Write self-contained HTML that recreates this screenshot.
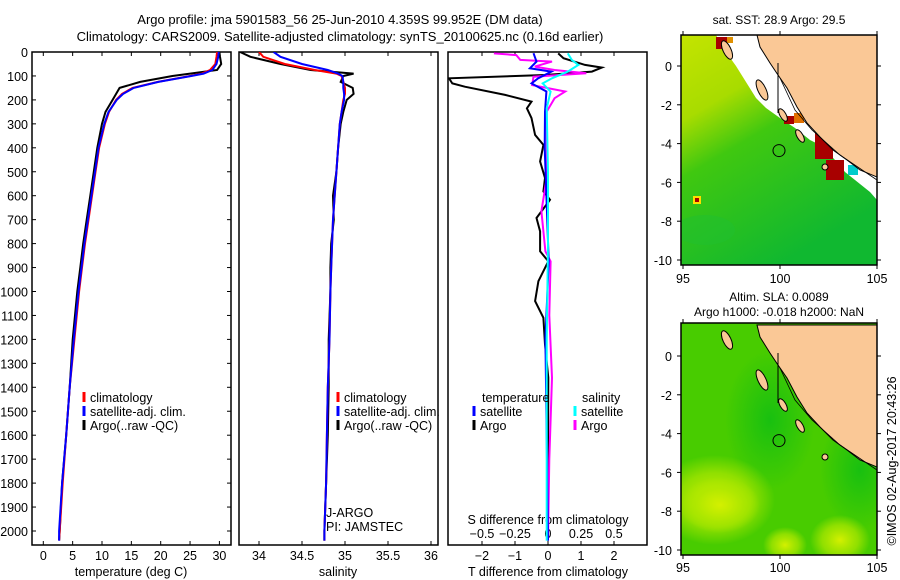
<!DOCTYPE html>
<html><head><meta charset="utf-8"><style>
body{margin:0;background:#fff;}
svg{display:block;font-family:"Liberation Sans",sans-serif;}
text{fill:#000;}
</style></head><body>
<svg id="chart" width="900" height="580" viewBox="0 0 900 580" xmlns="http://www.w3.org/2000/svg">
<defs>
<clipPath id="cp1"><rect x="32" y="52" width="199" height="493"/></clipPath>
<clipPath id="cp2"><rect x="239" y="52" width="199" height="493"/></clipPath>
<clipPath id="cp3"><rect x="448" y="52" width="199" height="493"/></clipPath>
<clipPath id="cm1"><rect x="681" y="35" width="196" height="230"/></clipPath>
<clipPath id="cm2"><rect x="681" y="323" width="196" height="232"/></clipPath>
<linearGradient id="g1" x1="0" y1="0" x2="0.5" y2="1"><stop offset="0" stop-color="#c4e400"/><stop offset="0.3" stop-color="#a8dc00"/><stop offset="0.5" stop-color="#40c810"/><stop offset="1" stop-color="#10b830"/></linearGradient>
<radialGradient id="y1" cx="0.5" cy="0.5" r="0.5"><stop offset="0" stop-color="#d4f000"/><stop offset="0.6" stop-color="#b0e800" stop-opacity="0.7"/><stop offset="1" stop-color="#b0e800" stop-opacity="0"/></radialGradient>
<radialGradient id="d1" cx="0.5" cy="0.5" r="0.5"><stop offset="0" stop-color="#18c010"/><stop offset="1" stop-color="#18c010" stop-opacity="0"/></radialGradient>
</defs>
<g id="titles">
<text x="340" y="24" font-size="13" text-anchor="middle">Argo profile: jma 5901583_56 25-Jun-2010 4.359S 99.952E (DM data)</text>
<text x="340" y="41" font-size="13" text-anchor="middle">Climatology: CARS2009. Satellite-adjusted climatology: synTS_20100625.nc (0.16d earlier)</text>
</g>
<g id="frames"></g>
<g id="maps"></g>
<g id="plots"></g>
</svg>
<script>
const depths=[0,20,50,75,90,100,125,150,175,200,250,300,400,500,600,700,800,900,1000,1200,1400,1600,1800,2000,2040];
const climT=[29.6,29.5,29.3,28.4,27,25,19.5,15.2,13.4,12.4,11.2,10.5,9.5,8.9,8.3,7.7,7.1,6.6,6.1,5.3,4.5,3.9,3.3,2.8,2.7];
const satT=[29.9,29.8,29.5,28.8,27.3,25.2,19.6,15.4,13.6,12.5,11.1,10.4,9.4,8.8,8.2,7.6,7.0,6.5,6.0,5.2,4.5,3.9,3.2,2.7,2.7];
const argoT=[30.0,30.1,30.3,29.6,25,22,16.5,13.0,12.4,11.8,10.6,10.0,9.2,8.6,8.0,7.4,6.8,6.3,5.8,5.0,4.5,3.9,3.2,2.8,2.7];
const climS=[34.0,34.05,34.3,34.65,34.9,34.96,34.98,35.0,35.0,34.98,34.96,34.94,34.92,34.9,34.88,34.86,34.85,34.84,34.83,34.82,34.8,34.79,34.78,34.76,34.76];
const satS=[34.17,34.25,34.5,34.8,34.92,34.97,34.98,34.98,34.99,34.99,34.96,34.94,34.92,34.9,34.88,34.86,34.85,34.84,34.83,34.82,34.8,34.79,34.78,34.76,34.76];
const argoS=[33.78,33.9,34.25,34.6,35.1,34.98,34.95,35.09,35.1,35.02,34.98,34.95,34.92,34.9,34.86,34.87,34.84,34.83,34.83,34.81,34.81,34.8,34.78,34.76,34.76];
const dTdepths=[6,26,54,65,82,96,110,131,145,179,207,235,276,346,388,457,526,582,617,693,749,832,874,957,1040,1110,1221,1360,1700,2040];
const argoDT=[0.31,0.47,1.12,1.63,1.33,-0.09,-3.0,-2.9,-2.52,-1.3,-0.5,-0.64,-0.5,-0.39,-0.14,-0.24,-0.09,-0.14,0.06,-0.35,-0.24,-0.24,0.01,-0.29,-0.39,-0.14,-0.09,0.01,0.0,0.0];
const satDdepths=[5,40,68,82,110,131,165,250,400,600,874,1200,1500,2040];
const satDT=[-0.44,-0.35,-0.55,0.1,-0.3,-0.5,-0.05,-0.09,-0.1,-0.05,0.02,-0.08,-0.05,0.0];
const dSdepths=[6,13,33,40,61,75,89,103,138,165,193,249,526,665,832,874,1100,1360,1700,2040];
const argoDS=[-0.41,-0.24,-0.21,0.03,-0.1,0.05,0.29,-0.11,-0.12,0.13,0.05,-0.01,-0.01,-0.05,-0.02,0.02,0.01,0.03,0.01,0.0];
const satDSdepths=[6,33,54,82,110,131,165,235,500,800,1200,1600,2040];
const satDS=[0.15,0.18,0.23,0.15,0.03,-0.04,0.02,-0.01,0.0,0.0,-0.01,-0.01,-0.01];
const depthTicks=[0,100,200,300,400,500,600,700,800,900,1000,1100,1200,1300,1400,1500,1600,1700,1800,1900,2000];
const tTicks=[0,5,10,15,20,25,30];
const sTicks=[34,34.5,35,35.5,36];
const dTTicks=[-2,-1,0,1,2];
const dSTicks=[-0.5,-0.25,0,0.25,0.5];
const lonTicks=[95,100,105];
const latTicks=[0,-2,-4,-6,-8,-10];

const NS='http://www.w3.org/2000/svg';
function mk(tag,attrs,parent){const e=document.createElementNS(NS,tag);for(const k in attrs)e.setAttribute(k,attrs[k]);parent.appendChild(e);return e;}
const yD=d=>52+d*0.2395;
const xT=t=>43.3+t*5.87;
const xS=s=>259+(s-34)*86;
const xDT=t=>548+t*33;
const xDS=s=>548+s*132;
const frames=document.getElementById('frames');
const plots=document.getElementById('plots');
const maps=document.getElementById('maps');

function txt(x,y,s,size,anchor,parent,name){const t=mk('text',{x:x,y:y,'font-size':size,'text-anchor':anchor||'start'},parent);t.textContent=s;


return t;}

[[32,'temperature-panel'],[239,'salinity-panel'],[448,'difference-panel']].forEach(([x,n])=>{
 const r=mk('rect',{x:x,y:52,width:199,height:493,fill:'none',stroke:'#000','stroke-width':1.5},frames);
 
 
});
depthTicks.forEach(d=>{
 const y=yD(d);
 mk('line',{x1:32,x2:36,y1:y,y2:y,stroke:'#000'},frames);
 mk('line',{x1:227,x2:231,y1:y,y2:y,stroke:'#000'},frames);
 txt(28,y+5,String(d),12.5,'end',frames,'depth-tick-label');
});
tTicks.forEach(t=>{const x=xT(t);mk('line',{x1:x,x2:x,y1:545,y2:541,stroke:'#000'},frames);mk('line',{x1:x,x2:x,y1:52,y2:56,stroke:'#000'},frames);txt(x,560,String(t),12.5,'middle',frames,'temperature-tick-label');});
sTicks.forEach(s=>{const x=xS(s);mk('line',{x1:x,x2:x,y1:545,y2:541,stroke:'#000'},frames);mk('line',{x1:x,x2:x,y1:52,y2:56,stroke:'#000'},frames);txt(x,560,String(s),12.5,'middle',frames,'salinity-tick-label');});
dTTicks.forEach(t=>{const x=xDT(t);mk('line',{x1:x,x2:x,y1:545,y2:541,stroke:'#000'},frames);txt(x,560,String(t).replace('-','\u2212'),12.5,'middle',frames,'t-diff-tick-label');});
dSTicks.forEach(s=>{const x=xDS(s);mk('line',{x1:x,x2:x,y1:545,y2:541,stroke:'#000'},frames);mk('line',{x1:x,x2:x,y1:52,y2:56,stroke:'#000'},frames);txt(x,538,String(s).replace('-','\u2212'),12.5,'middle',frames,'s-diff-tick-label');});
txt(131,576,'temperature (deg C)',12.5,'middle',frames,'temperature-axis-title');
txt(338,576,'salinity',12.5,'middle',frames,'salinity-axis-title');
txt(548,576,'T difference from climatology',12.5,'middle',frames,'t-diff-axis-title');
txt(548,524,'S difference from climatology',12.5,'middle',frames,'s-diff-axis-title');
txt(326,517,'J-ARGO',12.5,'start',frames,'float-program-label');
txt(326,531,'PI: JAMSTEC',12.5,'start',frames,'pi-label');

function line(xs,ds,xf,color,clip,name,w){
 const g=mk('g',{'clip-path':'url(#'+clip+')'},plots);
 const p=mk('polyline',{points:xs.map((v,i)=>xf(v).toFixed(1)+','+yD(ds[i]).toFixed(1)).join(' '),fill:'none',stroke:color,'stroke-width':w||2},g);
 
 
}
line(argoT,depths,xT,'#000','cp1','argo-temperature-line');
line(climT,depths,xT,'#ff0000','cp1','climatology-temperature-line');
line(satT,depths,xT,'#0000ff','cp1','satellite-temperature-line');
line(argoS,depths,xS,'#000','cp2','argo-salinity-line');
line(climS,depths,xS,'#ff0000','cp2','climatology-salinity-line');
line(satS,depths,xS,'#0000ff','cp2','satellite-salinity-line');
line(argoDT,dTdepths,xDT,'#000','cp3','argo-t-diff-line');
line(argoDS,dSdepths,xDS,'#ff00ff','cp3','argo-s-diff-line');
line(satDT,satDdepths,xDT,'#0000ff','cp3','satellite-t-diff-line');
line(satDS,satDSdepths,xDS,'#00ffff','cp3','satellite-s-diff-line');

function legend(x,y,color,label,name){
 const g=mk('g',{},plots);
 
 
 mk('rect',{x:x-1.5,y:y-10,width:3,height:10,fill:color},g);
 const t=mk('text',{x:x+6,y:y,'font-size':12.5},g);t.textContent=label;
}
legend(84,402,'#ff0000','climatology','legend-climatology');
legend(84,416,'#0000ff','satellite-adj. clim.','legend-satellite');
legend(84,430,'#000','Argo(..raw -QC)','legend-argo');
legend(338,402,'#ff0000','climatology','legend-climatology-salinity');
legend(338,416,'#0000ff','satellite-adj. clim.','legend-satellite-salinity');
legend(338,430,'#000','Argo(..raw -QC)','legend-argo-salinity');
txt(482,402,'temperature',12.5,'start',plots,'legend-temperature-heading');
txt(582,402,'salinity',12.5,'start',plots,'legend-salinity-heading');
legend(474,416,'#0000ff','satellite','legend-t-satellite');
legend(474,430,'#000','Argo','legend-t-argo');
legend(575,416,'#00ffff','satellite','legend-s-satellite');
legend(575,430,'#ff00ff','Argo','legend-s-argo');

const land=[[757,35],[760,47],[770,63],[778,75],[787,88],[797,107],[807,123],[820,137],[833,150],[847,160],[860,170],[877,177],[877,35]];
function drawMap(clip,top){
 const g=mk('g',{'clip-path':'url(#'+clip+')'},maps);
 
 
 const fy=top?35:323, fh=top?230:232;
 if(top){
  mk('rect',{x:681,y:fy,width:196,height:fh,fill:'url(#g1)'},g);
  mk('ellipse',{cx:705,cy:230,rx:30,ry:15,fill:'#20c030',opacity:0.5},g);
  mk('polygon',{points:'716,35 726,52 736,66 746,82 756,98 766,108 780,118 795,128 810,140 822,146 835,160 845,172 870,192 877,200 877,35',fill:'#fff'},g);
  [[716,37,12,12,'#a80000'],[727,37,6,6,'#e09000'],[794,113,10,10,'#e07000'],[784,116,10,8,'#a80000'],[815,133,18,26,'#a80000'],[826,160,18,20,'#a80000'],[848,165,10,10,'#00cccc'],[857,55,12,12,'#001080'],[863,35,14,8,'#a80000'],[693,196,8,8,'#ffdd00'],[695,198,4,4,'#a80000']].forEach(r=>mk('rect',{x:r[0],y:r[1],width:r[2],height:r[3],fill:r[4]},g));
 } else {
  mk('rect',{x:681,y:fy,width:196,height:fh,fill:'#48cc00'},g);
  mk('ellipse',{cx:770,cy:420,rx:45,ry:70,fill:'url(#d1)'},g);
  mk('ellipse',{cx:860,cy:470,rx:40,ry:60,fill:'url(#d1)'},g);
  mk('ellipse',{cx:715,cy:500,rx:60,ry:45,fill:'url(#y1)'},g);
  mk('ellipse',{cx:720,cy:505,rx:40,ry:28,fill:'url(#y1)'},g);
  mk('ellipse',{cx:840,cy:540,rx:30,ry:25,fill:'url(#y1)'},g);
  mk('ellipse',{cx:785,cy:545,rx:22,ry:18,fill:'url(#y1)'},g);
 }
 const off=top?0:290;
 mk('polygon',{points:land.map(p=>p[0]+','+(p[1]+off)).join(' '),fill:'#fac896',stroke:'#000','stroke-width':1},g);
 [[727,50,4,10,-25],[762,90,4,11,-25],[783,115,3,7,-30],[800,136,3,7,-30],[825,167,3,3,0]].forEach(e=>mk('ellipse',{cx:e[0],cy:e[1]+off,rx:e[2],ry:e[3],transform:'rotate('+e[4]+' '+e[0]+' '+(e[1]+off)+')',fill:'#fac896',stroke:'#000'},g));
 mk('line',{x1:778,y1:63+off,x2:778,y2:113+off,stroke:'#000'},g);
 mk('polyline',{points:[[780,78],[795,110],[812,130],[840,155],[877,180]].map(p=>p[0]+','+(p[1]+off)).join(' '),fill:'none',stroke:'#000','stroke-width':0.8},g);
 const c=mk('circle',{cx:779,cy:(top?66:356)+4.359*19.4,r:6,fill:'none',stroke:'#000'},g);
 
 
 const fr=mk('rect',{x:681,y:fy,width:196,height:fh,fill:'none',stroke:'#000','stroke-width':1.5},maps);
 
 
 const lat0=top?66:356;
 latTicks.forEach(l=>{const y=lat0-l*19.4;mk('line',{x1:677,x2:681,y1:y,y2:y,stroke:'#000'},maps);mk('line',{x1:877,x2:881,y1:y,y2:y,stroke:'#000'},maps);txt(672,y+5,String(l),12.5,'end',maps,'latitude-tick-label');});
 lonTicks.forEach(l=>{const x=683+(l-95)*19.4;mk('line',{x1:x,x2:x,y1:fy-4,y2:fy,stroke:'#000'},maps);mk('line',{x1:x,x2:x,y1:fy+fh,y2:fy+fh+4,stroke:'#000'},maps);txt(x,top?283:572,String(l),12.5,'middle',maps,'longitude-tick-label');});
}
drawMap('cm1',true);
drawMap('cm2',false);
txt(779,24,'sat. SST: 28.9 Argo: 29.5',12,'middle',maps,'sst-map-title');
txt(779,301,'Altim. SLA: 0.0089',12,'middle',maps,'sla-map-title');
txt(779,316,'Argo h1000: -0.018 h2000: NaN',12,'middle',maps,'argo-height-label');
const cr=mk('text',{x:0,y:0,'font-size':12.5,'text-anchor':'middle',transform:'translate(896,461) rotate(-90)'},maps);
cr.textContent='\u00a9IMOS 02-Aug-2017 20:43:26';


</script>
</body></html>
